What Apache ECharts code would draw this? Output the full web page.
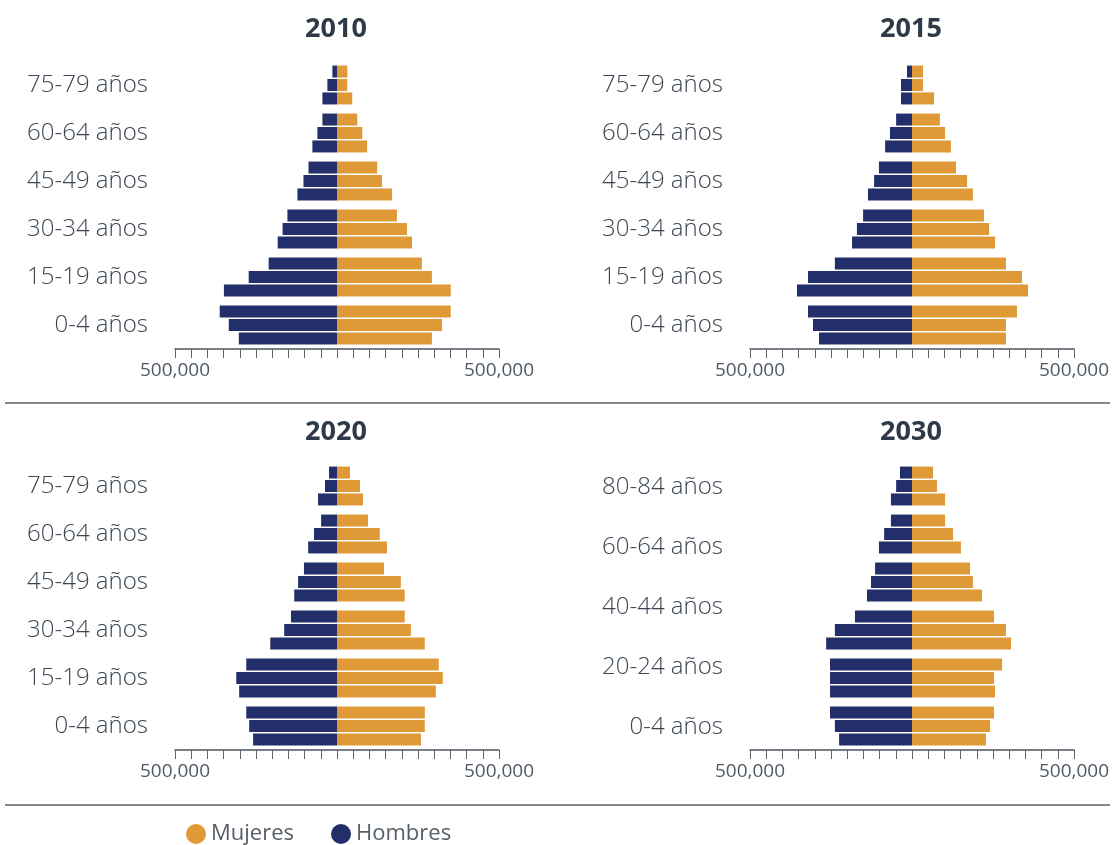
<!DOCTYPE html>
<html>
<head>
<meta charset="utf-8">
<script src="https://cdn.jsdelivr.net/npm/echarts@6/dist/echarts.min.js"></script>
<style>
  html, body { margin: 0; padding: 0; background: #fff; }
  #chart { width: 1115px; height: 845px; }
</style>
</head>
<body>
<div id="chart"></div>
<script>
// age groups, oldest first (top of each pyramid)
const edades = ['85+', '80-84', '75-79', '70-74', '65-69', '60-64', '55-59', '50-54', '45-49',
  '40-44', '35-39', '30-34', '25-29', '20-24', '15-19', '10-14', '5-9', '0-4']

const anios = ['2010', '2015', '2020', '2030']

// values, same order as edades
const mujeres2010 = [31800, 31800, 47000, 62500, 78000, 93000, 124000, 139000, 170000,
  185000, 216000, 231500, 262000, 293000, 351000, 351000, 324000, 293000]
const hombres2010 = [14300, 29700, 45000, 45000, 60500, 76000, 88000, 103500, 122000,
  153000, 168000, 183000, 211000, 272500, 349000, 362000, 334000, 303000]

const mujeres2015 = [34000, 34000, 68000, 86000, 102000, 120000, 136000, 170000, 188000,
  222000, 238000, 256000, 290000, 339500, 358000, 324000, 290000, 290000]
const hombres2015 = [15400, 34000, 34000, 49000, 68000, 83000, 102000, 117000, 136000,
  151000, 170000, 185000, 238000, 321000, 355000, 321000, 305500, 287000]

const mujeres2020 = [40000, 71000, 80000, 95500, 132000, 154000, 145000, 197000, 209000,
  209000, 228000, 271000, 314000, 326500, 305000, 271000, 271000, 259000]
const hombres2020 = [24600, 37000, 58500, 49000, 71000, 89000, 102000, 120000, 132000,
  142000, 163000, 206000, 280000, 311000, 302000, 280000, 271000, 259000]

const mujeres2030 = [65000, 77000, 102000, 102000, 126500, 151000, 179000, 188000, 216000,
  253000, 290000, 305500, 278000, 253000, 256000, 253000, 241000, 228000]
const hombres2030 = [37000, 49000, 65000, 65000, 86000, 102000, 114000, 126500, 139000,
  176000, 238000, 265000, 253000, 253000, 253000, 253000, 238000, 225000]

// y-axis labels, top to bottom
const etiquetas2010 = ['75-79 años', '60-64 años', '45-49 años', '30-34 años', '15-19 años', '0-4 años']
const etiquetas2015 = ['75-79 años', '60-64 años', '45-49 años', '30-34 años', '15-19 años', '0-4 años']
const etiquetas2020 = ['75-79 años', '60-64 años', '45-49 años', '30-34 años', '15-19 años', '0-4 años']
const etiquetas2030 = ['80-84 años', '60-64 años', '40-44 años', '20-24 años', '0-4 años']

const mujeres = [mujeres2010, mujeres2015, mujeres2020, mujeres2030]
const hombres = [hombres2010, hombres2015, hombres2020, hombres2030]
const etiquetas = [etiquetas2010, etiquetas2015, etiquetas2020, etiquetas2030]

const colorMujeres = '#df9936'
const colorHombres = '#232f6b'
const fontName = '"Open Sans", sans-serif'

// panel placement
const panels = [
  { left: 175, top: 61, cx: 336, titleY: 29 },
  { left: 750, top: 61, cx: 911, titleY: 29 },
  { left: 175, top: 462, cx: 336, titleY: 432 },
  { left: 750, top: 462, cx: 911, titleY: 432 }
]
const panelWidth = 324
const panelHeight = 288

const chart = echarts.init(document.getElementById('chart'))

const grids = []
const xAxes = []
const yAxes = []
const series = []
const graphics = []

panels.forEach(function(p, i) {
  const nGroups = edades.length / 3
  const groups = []
  for (let g = 0; g < nGroups; g++) groups.push('g' + g)

  // bar grid
  grids.push({ left: p.left, top: p.top, width: panelWidth, height: panelHeight })
  xAxes.push({
    gridIndex: i * 2,
    type: 'value',
    min: -500000,
    max: 500000,
    interval: 50000,
    splitLine: { show: false },
    axisLine: { show: true, lineStyle: { color: '#4d5560', width: 1.5 } },
    axisTick: { show: true, length: 9, lineStyle: { color: '#5d6570' } },
    axisLabel: {
      color: '#4f5a66',
      fontSize: 19,
      fontFamily: fontName,
      margin: 12,
      showMinLabel: true,
      showMaxLabel: true,
      formatter: function(v) {
        return Math.abs(v) === 500000 ? '500,000' : ''
      }
    }
  })
  yAxes.push({
    gridIndex: i * 2,
    type: 'category',
    inverse: true,
    data: groups,
    axisLine: { show: false },
    axisTick: { show: false },
    axisLabel: { show: false }
  })

  // label grid
  const labs = etiquetas[i]
  const labelStep = labs.length === 6 ? 48 : 60
  const labelHeight = labelStep * labs.length
  const labelTop = p.top + panelHeight / 2 - labelHeight / 2 + (labs.length === 6 ? 0 : 1)
  grids.push({ left: p.left, top: labelTop, width: panelWidth, height: labelHeight })
  xAxes.push({ gridIndex: i * 2 + 1, type: 'value', show: false })
  yAxes.push({
    gridIndex: i * 2 + 1,
    type: 'category',
    inverse: true,
    data: labs,
    axisLine: { show: false },
    axisTick: { show: false },
    axisLabel: { color: '#3b4652', fontSize: 24, fontWeight: 300, fontFamily: fontName, margin: 27 }
  })

  // three bars per group: one stack per slot
  for (let k = 0; k < 3; k++) {
    const mData = []
    const hData = []
    for (let g = 0; g < nGroups; g++) {
      mData.push(mujeres[i][g * 3 + k])
      hData.push(-hombres[i][g * 3 + k])
    }
    series.push({
      name: 'Mujeres',
      type: 'bar',
      xAxisIndex: i * 2,
      yAxisIndex: i * 2,
      stack: 'p' + i + 's' + k,
      barWidth: 12,
      barGap: '12%',
      itemStyle: { color: colorMujeres },
      data: mData
    })
    series.push({
      name: 'Hombres',
      type: 'bar',
      xAxisIndex: i * 2,
      yAxisIndex: i * 2,
      stack: 'p' + i + 's' + k,
      barWidth: 12,
      barGap: '12%',
      itemStyle: { color: colorHombres },
      data: hData
    })
  }

  graphics.push({
    type: 'text',
    x: p.cx,
    y: p.titleY,
    style: {
      text: anios[i],
      textAlign: 'center',
      textVerticalAlign: 'middle',
      fontSize: 27,
      fontWeight: 'bold',
      fontFamily: fontName,
      fill: '#2e3a46'
    }
  })
})

graphics.push(
  { type: 'line', shape: { x1: 5, y1: 403, x2: 1110, y2: 403 }, style: { stroke: '#5b6068', lineWidth: 1.5 } },
  { type: 'line', shape: { x1: 5, y1: 805, x2: 1110, y2: 805 }, style: { stroke: '#5b6068', lineWidth: 1.5 } }
)

const option = {
  animation: false,
  grid: grids,
  xAxis: xAxes,
  yAxis: yAxes,
  series: series,
  legend: {
    data: ['Mujeres', 'Hombres'],
    left: 181,
    top: 818,
    icon: 'circle',
    itemWidth: 20,
    itemHeight: 20,
    itemGap: 37,
    textStyle: { fontSize: 22, color: '#565e67', fontFamily: fontName }
  },
  graphic: graphics
}

chart.setOption(option)
</script>
</body>
</html>
